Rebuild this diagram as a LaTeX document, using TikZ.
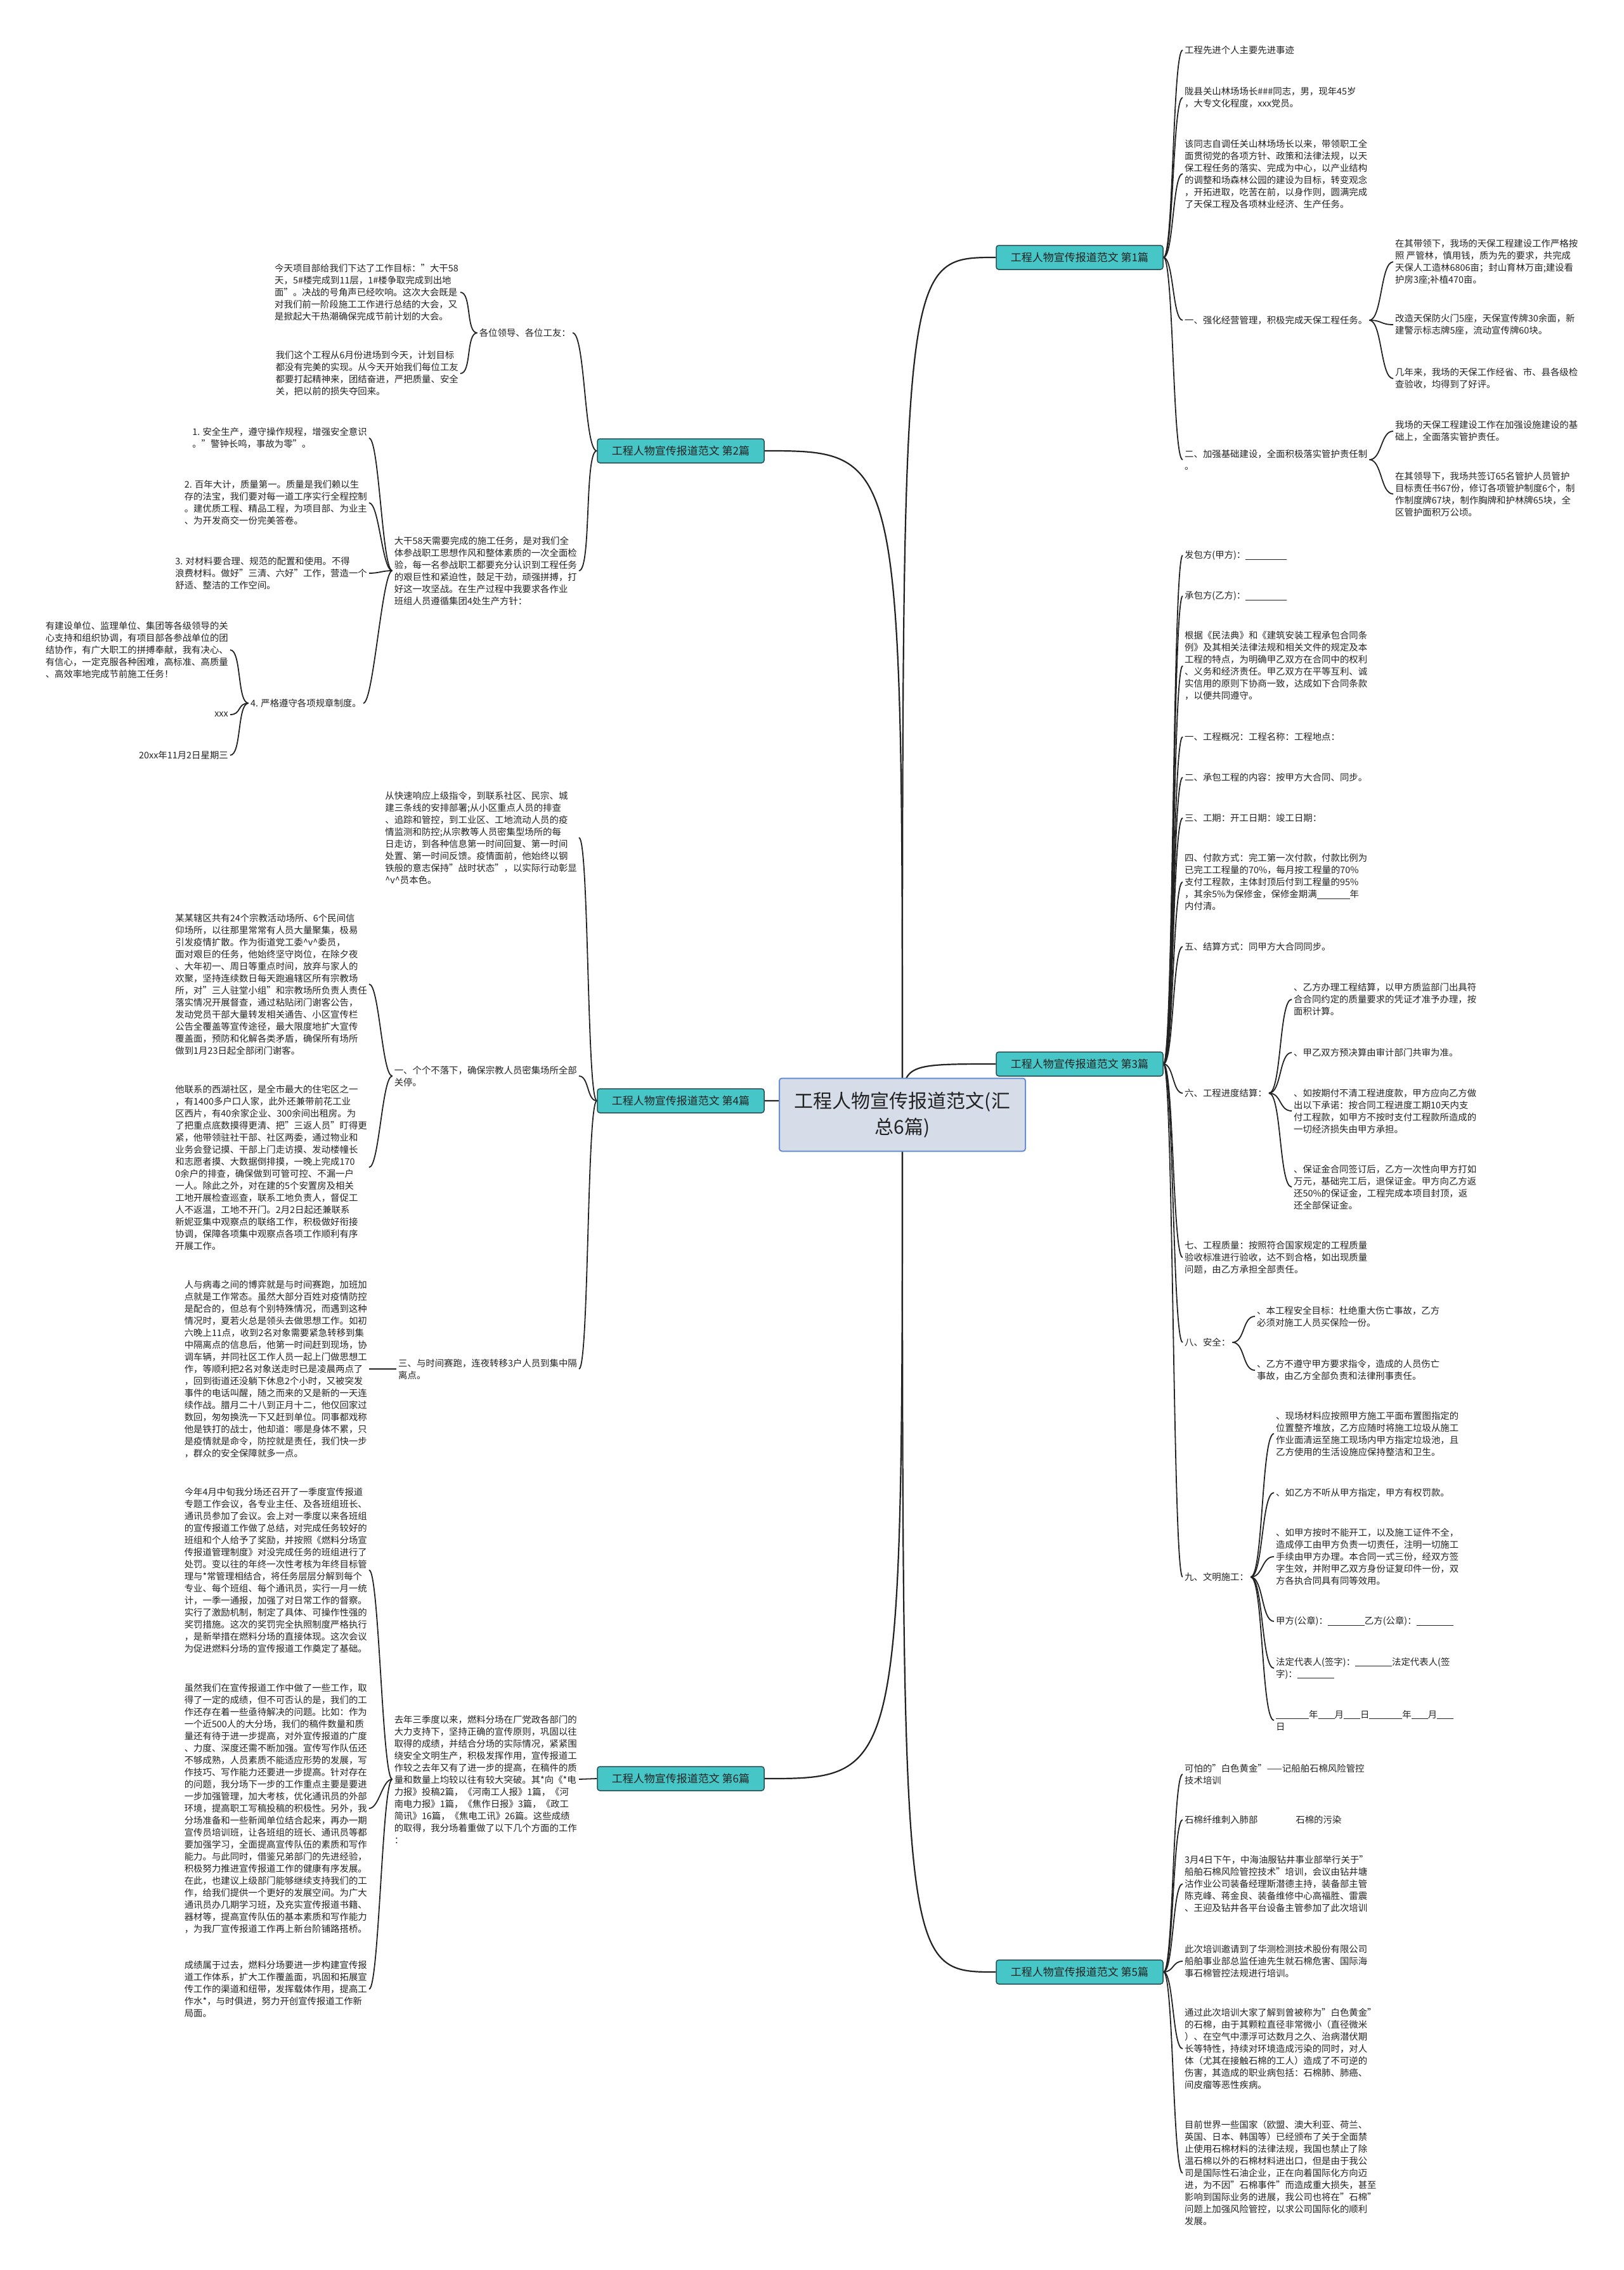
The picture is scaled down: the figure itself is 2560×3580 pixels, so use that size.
\documentclass[tikz,border=0pt]{standalone}
\usepackage{fontspec}
\setmainfont{Noto Sans CJK SC}
\usetikzlibrary{backgrounds}
\definecolor{topicfill}{RGB}{70,198,198}
\definecolor{topicedge}{RGB}{38,78,84}
\definecolor{hubfill}{RGB}{214,221,233}
\definecolor{hubedge}{RGB}{104,142,212}
\definecolor{inkgray}{RGB}{34,34,34}
\newcommand{\leaffont}{\fontsize{14.4}{19}\selectfont}
\newcommand{\blankfill}[1]{\rule[-2pt]{#1pt}{1pt}}

\begin{document}
\begin{tikzpicture}[x=1pt, y=-1pt,
    hub/.style={draw=hubedge, fill=hubfill, line width=2pt, rounded corners=4pt, align=center,
                minimum width=388pt, minimum height=115pt, font=\fontsize{30}{41}\selectfont, text=inkgray},
    topic/.style={draw=topicedge, fill=topicfill, line width=1.5pt, rounded corners=4pt, inner sep=0pt,
                minimum width=263pt, minimum height=38pt, font=\fontsize{17}{20}\selectfont, text=inkgray},
    leaf/.style={anchor=west, align=left, inner sep=3pt, font=\leaffont, text=inkgray},
    leafl/.style={leaf, anchor=east},
    trunk/.style={line width=2.2pt, inkgray},
    twig/.style={line width=1.8pt, inkgray}
  ]
    \useasboundingbox (0,0) rectangle (2560,3580);

    \node[hub] (cn) at (1423,1758) {工程人物宣传报道范文(汇\\总6篇)};

    \node[topic] (b1) at (1702.5,406) {工程人物宣传报道范文 第1篇};
    \node[topic] (b3) at (1702.5,1678) {工程人物宣传报道范文 第3篇};
    \node[topic] (b5) at (1702.5,3110) {工程人物宣传报道范文 第5篇};
    \node[topic] (b2) at (1073.5,711) {工程人物宣传报道范文 第2篇};
    \node[topic] (b4) at (1073.5,1736) {工程人物宣传报道范文 第4篇};
    \node[topic] (b6) at (1073.5,2805) {工程人物宣传报道范文 第6篇};

    \node[leaf] (p1a) at (1865,79) {工程先进个人主要先进事迹};
    \node[leaf] (p1b) at (1865,154) {陇县关山林场场长\#\#\#同志，男，现年45岁\\，大专文化程度，xxx党员。};
    \node[leaf] (p1c) at (1865,274) {该同志自调任关山林场场长以来，带领职工全\\面贯彻党的各项方针、政策和法律法规，以天\\保工程任务的落实、完成为中心，以产业结构\\的调整和场森林公园的建设为目标，转变观念\\，开拓进取，吃苦在前，以身作则，圆满完成\\了天保工程及各项林业经济、生产任务。};
    \node[leaf] (p1d) at (1865,505) {一、强化经营管理，积极完成天保工程任务。};
    \node[leaf] (p1e) at (1865,725) {二、加强基础建设，全面积极落实管护责任制\\。};
    \node[leaf] (p1d1) at (2197,413) {在其带领下，我场的天保工程建设工作严格按\\照 严管林，慎用钱，质为先的要求，共完成\\天保人工造林6806亩；封山育林万亩;建设看\\护房3座;补植470亩。};
    \node[leaf] (p1d2) at (2197,512) {改造天保防火门5座，天保宣传牌30余面，新\\建警示标志牌5座，流动宣传牌60块。};
    \node[leaf] (p1d3) at (2197,597) {几年来，我场的天保工作经省、市、县各级检\\查验收，均得到了好评。};
    \node[leaf] (p1e1) at (2197,680) {我场的天保工程建设工作在加强设施建设的基\\础上，全面落实管护责任。};
    \node[leaf] (p1e2) at (2197,779) {在其领导下，我场共签订65名管护人员管护\\目标责任书67份，修订各项管护制度6个，制\\作制度牌67块，制作胸牌和护林牌65块，全\\区管护面积万公顷。};

    \node[leaf] (p3a) at (1865,876) {发包方(甲方)：\blankfill{65}};
    \node[leaf] (p3b) at (1865,940) {承包方(乙方)：\blankfill{65}};
    \node[leaf] (p3c) at (1865,1050) {根据《民法典》和《建筑安装工程承包合同条\\例》及其相关法律法规和相关文件的规定及本\\工程的特点，为明确甲乙双方在合同中的权利\\、义务和经济责任。甲乙双方在平等互利、诚\\实信用的原则下协商一致，达成如下合同条款\\，以便共同遵守。};
    \node[leaf] (p3d) at (1865,1162) {一、工程概况：工程名称：工程地点：};
    \node[leaf] (p3e) at (1865,1226) {二、承包工程的内容：按甲方大合同、同步。};
    \node[leaf] (p3f) at (1865,1290) {三、工期：开工日期：竣工日期：};
    \node[leaf] (p3g) at (1865,1391) {四、付款方式：完工第一次付款，付款比例为\\已完工工程量的70\%，每月按工程量的70\%\\支付工程款，主体封顶后付到工程量的95\%\\，其余5\%为保修金，保修金期满\blankfill{52}年\\内付清。};
    \node[leaf] (p3h) at (1865,1493) {五、结算方式：同甲方大合同同步。};
    \node[leaf] (p3i) at (1865,1724) {六、工程进度结算：};
    \node[leaf] (p3i1) at (2037,1576) {、乙方办理工程结算，以甲方质监部门出具符\\合合同约定的质量要求的凭证才准予办理，按\\面积计算。};
    \node[leaf] (p3i2) at (2037,1660) {、甲乙双方预决算由审计部门共审为准。};
    \node[leaf] (p3i3) at (2037,1752) {、如按期付不清工程进度款，甲方应向乙方做\\出以下承诺：按合同工程进度工期10天内支\\付工程款，如甲方不按时支付工程款所造成的\\一切经济损失由甲方承担。};
    \node[leaf] (p3i4) at (2037,1872) {、保证金合同签订后，乙方一次性向甲方打如\\万元，基础完工后，退保证金。甲方向乙方返\\还50\%的保证金，工程完成本项目封顶，返\\还全部保证金。};
    \node[leaf] (p3j) at (1865,1983) {七、工程质量：按照符合国家规定的工程质量\\验收标准进行验收，达不到合格，如出现质量\\问题，由乙方承担全部责任。};
    \node[leaf] (p3k) at (1865,2117) {八、安全：};
    \node[leaf] (p3k1) at (1979,2076) {、本工程安全目标：杜绝重大伤亡事故，乙方\\必须对施工人员买保险一份。};
    \node[leaf] (p3k2) at (1979,2161) {、乙方不遵守甲方要求指令，造成的人员伤亡\\事故，由乙方全部负责和法律刑事责任。};
    \node[leaf] (p3l) at (1865,2487) {九、文明施工：};
    \node[leaf] (p3l1) at (2009,2261) {、现场材料应按照甲方施工平面布置图指定的\\位置整齐堆放，乙方应随时将施工垃圾从施工\\作业面清运至施工现场内甲方指定垃圾池，且\\乙方使用的生活设施应保持整洁和卫生。};
    \node[leaf] (p3l2) at (2009,2354) {、如乙方不听从甲方指定，甲方有权罚款。};
    \node[leaf] (p3l3) at (2009,2455) {、如甲方按时不能开工，以及施工证件不全，\\造成停工由甲方负责一切责任，注明一切施工\\手续由甲方办理。本合同一式三份，经双方签\\字生效，并附甲乙双方身份证复印件一份，双\\方各执合同具有同等效用。};
    \node[leaf] (p3l4) at (2009,2557) {甲方(公章)：\blankfill{58}乙方(公章)：\blankfill{58}};
    \node[leaf] (p3l5) at (2009,2631) {法定代表人(签字)：\blankfill{58}法定代表人(签\\字)：\blankfill{58}};
    \node[leaf] (p3l6) at (2009,2713) {\blankfill{52}年\blankfill{26}月\blankfill{26}日\blankfill{52}年\blankfill{26}月\blankfill{26}\\日};

    \node[leaf] (p5a) at (1865,2798) {可怕的"白色黄金"——记船舶石棉风险管控\\技术培训};
    \node[leaf] (p5b) at (1865,2870) {石棉纤维刺入肺部\hspace{60pt}石棉的污染};
    \node[leaf] (p5c) at (1865,2971) {3月4日下午，中海油服钻井事业部举行关于"\\船舶石棉风险管控技术"培训，会议由钻井塘\\沽作业公司装备经理斯潜德主持，装备部主管\\陈克峰、蒋金良、装备维修中心高福胜、雷震\\、王迎及钻井各平台设备主管参加了此次培训};
    \node[leaf] (p5d) at (1865,3093) {此次培训邀请到了华测检测技术股份有限公司\\船舶事业部总监任迪先生就石棉危害、国际海\\事石棉管控法规进行培训。};
    \node[leaf] (p5e) at (1865,3231) {通过此次培训大家了解到曾被称为"白色黄金"\\的石棉，由于其颗粒直径非常微小（直径微米\\）、在空气中漂浮可达数月之久、治病潜伏期\\长等特性，持续对环境造成污染的同时，对人\\体（尤其在接触石棉的工人）造成了不可逆的\\伤害，其造成的职业病包括：石棉肺、肺癌、\\间皮瘤等恶性疾病。};
    \node[leaf] (p5f) at (1865,3427) {目前世界一些国家（欧盟、澳大利亚、荷兰、\\英国、日本、韩国等）已经颁布了关于全面禁\\止使用石棉材料的法律法规，我国也禁止了除\\温石棉以外的石棉材料进出口，但是由于我公\\司是国际性石油企业，正在向着国际化方向迈\\进，为不因"石棉事件"而造成重大损失，甚至\\影响到国际业务的进展，我公司也将在"石棉"\\问题上加强风险管控，以求公司国际化的顺利\\发展。};

    \node[leafl] (p2a) at (903,525) {各位领导、各位工友：};
    \node[leafl] (p2a1) at (726,461) {今天项目部给我们下达了工作目标："大干58\\天，5\#楼完成到11层，1\#楼争取完成到出地\\面"。决战的号角声已经吹响。这次大会既是\\对我们前一阶段施工工作进行总结的大会，又\\是掀起大干热潮确保完成节前计划的大会。};
    \node[leafl] (p2a2) at (726,589) {我们这个工程从6月份进场到今天，计划目标\\都没有完美的实现。从今天开始我们每位工友\\都要打起精神来，团结奋进，严把质量、安全\\关，把以前的损失夺回来。};
    \node[leafl] (p2b) at (913,900) {大干58天需要完成的施工任务，是对我们全\\体参战职工思想作风和整体素质的一次全面检\\验，每一名参战职工都要充分认识到工程任务\\的艰巨性和紧迫性，鼓足干劲，顽强拼搏，打\\好这一攻坚战。在生产过程中我要求各作业\\班组人员遵循集团4处生产方针：};
    \node[leafl] (p2b1) at (582,691) {1. 安全生产，遵守操作规程，增强安全意识\\。"警钟长鸣，事故为零"。};
    \node[leafl] (p2b2) at (582,793) {2. 百年大计，质量第一。质量是我们赖以生\\存的法宝，我们要对每一道工序实行全程控制\\。建优质工程、精品工程，为项目部、为业主\\、为开发商交一份完美答卷。};
    \node[leafl] (p2b3) at (582,904) {3. 对材料要合理、规范的配置和使用。不得\\浪费材料。做好"三清、六好"工作，营造一个\\舒适、整洁的工作空间。};
    \node[leafl] (p2b4) at (573,1109) {4. 严格遵守各项规章制度。};
    \node[leafl] (p2c1) at (363,1025) {有建设单位、监理单位、集团等各级领导的关\\心支持和组织协调，有项目部各参战单位的团\\结协作，有广大职工的拼搏奉献，我有决心、\\有信心，一定克服各种困难，高标准、高质量\\、高效率地完成节前施工任务！};
    \node[leafl] (p2c2) at (363,1127) {xxx};
    \node[leafl] (p2c3) at (363,1191) {20xx年11月2日星期三};

    \node[leafl] (p4a) at (913,1321) {从快速响应上级指令，到联系社区、民宗、城\\建三条线的安排部署;从小区重点人员的排查\\、追踪和管控，到工业区、工地流动人员的疫\\情监测和防控;从宗教等人员密集型场所的每\\日走访，到各种信息第一时间回复、第一时间\\处置、第一时间反馈。疫情面前，他始终以钢\\铁般的意志保持"战时状态"，以实际行动彰显\\\textasciicircum v\textasciicircum 员本色。};
    \node[leafl] (p4b) at (913,1697) {一、个个不落下，确保宗教人员密集场所全部\\关停。};
    \node[leafl] (p4b1) at (582,1552) {某某辖区共有24个宗教活动场所、6个民间信\\仰场所，以往那里常常有人员大量聚集，极易\\引发疫情扩散。作为街道党工委\textasciicircum v\textasciicircum 委员，\\面对艰巨的任务，他始终坚守岗位，在除夕夜\\、大年初一、周日等重点时间，放弃与家人的\\欢聚，坚持连续数日每天跑遍辖区所有宗教场\\所，对"三人驻堂小组"和宗教场所负责人责任\\落实情况开展督查，通过粘贴闭门谢客公告，\\发动党员干部大量转发相关通告、小区宣传栏\\公告全覆盖等宣传途径，最大限度地扩大宣传\\覆盖面，预防和化解各类矛盾，确保所有场所\\做到1月23日起全部闭门谢客。};
    \node[leafl] (p4b2) at (582,1841) {他联系的西湖社区，是全市最大的住宅区之一\\，有1400多户口人家，此外还兼带前花工业\\区西片，有40余家企业、300余间出租房。为\\了把重点底数摸得更清、把"三返人员"盯得更\\紧，他带领驻社干部、社区两委，通过物业和\\业务会登记摸、干部上门走访摸、发动楼幢长\\和志愿者摸、大数据倒排摸，一晚上完成170\\0余户的排查，确保做到可管可控、不漏一户\\一人。除此之外，对在建的5个安置房及相关\\工地开展检查巡查，联系工地负责人，督促工\\人不返温，工地不开门。2月2日起还兼联系\\新妮亚集中观察点的联络工作，积极做好衔接\\协调，保障各项集中观察点各项工作顺利有序\\开展工作。};
    \node[leafl] (p4c) at (913,2159) {三、与时间赛跑，连夜转移3户人员到集中隔\\离点。};
    \node[leafl] (p4c1) at (582,2159) {人与病毒之间的博弈就是与时间赛跑，加班加\\点就是工作常态。虽然大部分百姓对疫情防控\\是配合的，但总有个别特殊情况，而遇到这种\\情况时，夏若火总是领头去做思想工作。如初\\六晚上11点，收到2名对象需要紧急转移到集\\中隔离点的信息后，他第一时间赶到现场，协\\调车辆，并同社区工作人员一起上门做思想工\\作，等顺利把2名对象送走时已是凌晨两点了\\，回到街道还没躺下休息2个小时，又被突发\\事件的电话叫醒，随之而来的又是新的一天连\\续作战。腊月二十八到正月十二，他仅回家过\\数回，匆匆换洗一下又赶到单位。同事都戏称\\他是铁打的战士，他却道：哪是身体不累，只\\是疫情就是命令，防控就是责任，我们快一步\\，群众的安全保障就多一点。};

    \node[leafl] (p6a) at (913,2806) {去年三季度以来，燃料分场在厂党政各部门的\\大力支持下，坚持正确的宣传原则，巩固以往\\取得的成绩，并结合分场的实际情况，紧紧围\\绕安全文明生产，积极发挥作用，宣传报道工\\作较之去年又有了进一步的提高，在稿件的质\\量和数量上均较以往有较大突破。其*向《*电\\力报》投稿2篇，《河南工人报》1篇，《河\\南电力报》1篇，《焦作日报》3篇，《政工\\简讯》16篇，《焦电工讯》26篇。这些成绩\\的取得，我分场着重做了以下几个方面的工作\\：};
    \node[leafl] (p6a1) at (582,2476) {今年4月中旬我分场还召开了一季度宣传报道\\专题工作会议，各专业主任、及各班组班长、\\通讯员参加了会议。会上对一季度以来各班组\\的宣传报道工作做了总结，对完成任务较好的\\班组和个人给予了奖励，并按照《燃料分场宣\\传报道管理制度》对没完成任务的班组进行了\\处罚。变以往的年终一次性考核为年终目标管\\理与*常管理相结合，将任务层层分解到每个\\专业、每个班组、每个通讯员，实行一月一统\\计，一季一通报，加强了对日常工作的督察。\\实行了激励机制，制定了具体、可操作性强的\\奖罚措施。这次的奖罚完全执照制度严格执行\\，是新举措在燃料分场的直接体现。这次会议\\为促进燃料分场的宣传报道工作奠定了基础。};
    \node[leafl] (p6a2) at (582,2852) {虽然我们在宣传报道工作中做了一些工作，取\\得了一定的成绩，但不可否认的是，我们的工\\作还存在着一些亟待解决的问题。比如：作为\\一个近500人的大分场，我们的稿件数量和质\\量还有待于进一步提高，对外宣传报道的广度\\、力度、深度还需不断加强。宣传写作队伍还\\不够成熟，人员素质不能适应形势的发展，写\\作技巧、写作能力还要进一步提高。针对存在\\的问题，我分场下一步的工作重点主要是要进\\一步加强管理，加大考核，优化通讯员的外部\\环境，提高职工写稿投稿的积极性。另外，我\\分场准备和一些新闻单位结合起来，再办一期\\宣传员培训班，让各班组的班长、通讯员等都\\要加强学习，全面提高宣传队伍的素质和写作\\能力。与此同时，借鉴兄弟部门的先进经验，\\积极努力推进宣传报道工作的健康有序发展。\\在此，也建议上级部门能够继续支持我们的工\\作，给我们提供一个更好的发展空间。为广大\\通讯员办几期学习班，及充实宣传报道书籍、\\器材等，提高宣传队伍的基本素质和写作能力\\，为我厂宣传报道工作再上新台阶铺路搭桥。};
    \node[leafl] (p6a3) at (582,3137) {成绩属于过去，燃料分场要进一步构建宣传报\\道工作体系，扩大工作覆盖面，巩固和拓展宣\\传工作的渠道和纽带，发挥载体作用，提高工\\作水*，与时俱进，努力开创宣传报道工作新\\局面。};

    \begin{scope}[on background layer]
    \draw[trunk] (cn.center) .. controls (cn.center |- b1.west) .. (b1.west);
    \draw[trunk] (cn.center) .. controls (cn.center |- b3.west) .. (b3.west);
    \draw[trunk] (cn.center) .. controls (cn.center |- b5.west) .. (b5.west);
    \draw[trunk] (cn.center) .. controls (cn.center |- b2.east) .. (b2.east);
    \draw[trunk] (cn.center) .. controls (cn.center |- b4.east) .. (b4.east);
    \draw[trunk] (cn.center) .. controls (cn.center |- b6.east) .. (b6.east);

    \draw[twig] (b1.east) .. controls +(16,0) and +(-16,0) .. (p1a.west);
    \draw[twig] (b1.east) .. controls +(16,0) and +(-16,0) .. (p1b.west);
    \draw[twig] (b1.east) .. controls +(16,0) and +(-16,0) .. (p1c.west);
    \draw[twig] (b1.east) .. controls +(16,0) and +(-16,0) .. (p1d.west);
    \draw[twig] (b1.east) .. controls +(16,0) and +(-16,0) .. (p1e.west);
    \draw[twig] (p1d.east) .. controls +(20,0) and +(-20,0) .. (p1d1.west);
    \draw[twig] (p1d.east) .. controls +(20,0) and +(-20,0) .. (p1d2.west);
    \draw[twig] (p1d.east) .. controls +(20,0) and +(-20,0) .. (p1d3.west);
    \draw[twig] (p1e.east) .. controls +(20,0) and +(-20,0) .. (p1e1.west);
    \draw[twig] (p1e.east) .. controls +(20,0) and +(-20,0) .. (p1e2.west);

    \draw[twig] (b3.east) .. controls +(16,0) and +(-16,0) .. (p3a.west);
    \draw[twig] (b3.east) .. controls +(16,0) and +(-16,0) .. (p3b.west);
    \draw[twig] (b3.east) .. controls +(16,0) and +(-16,0) .. (p3c.west);
    \draw[twig] (b3.east) .. controls +(16,0) and +(-16,0) .. (p3d.west);
    \draw[twig] (b3.east) .. controls +(16,0) and +(-16,0) .. (p3e.west);
    \draw[twig] (b3.east) .. controls +(16,0) and +(-16,0) .. (p3f.west);
    \draw[twig] (b3.east) .. controls +(16,0) and +(-16,0) .. (p3g.west);
    \draw[twig] (b3.east) .. controls +(16,0) and +(-16,0) .. (p3h.west);
    \draw[twig] (b3.east) .. controls +(16,0) and +(-16,0) .. (p3i.west);
    \draw[twig] (b3.east) .. controls +(16,0) and +(-16,0) .. (p3j.west);
    \draw[twig] (b3.east) .. controls +(16,0) and +(-16,0) .. (p3k.west);
    \draw[twig] (b3.east) .. controls +(16,0) and +(-16,0) .. (p3l.west);
    \draw[twig] (p3i.east) .. controls +(20,0) and +(-20,0) .. (p3i1.west);
    \draw[twig] (p3i.east) .. controls +(20,0) and +(-20,0) .. (p3i2.west);
    \draw[twig] (p3i.east) .. controls +(20,0) and +(-20,0) .. (p3i3.west);
    \draw[twig] (p3i.east) .. controls +(20,0) and +(-20,0) .. (p3i4.west);
    \draw[twig] (p3k.east) .. controls +(20,0) and +(-20,0) .. (p3k1.west);
    \draw[twig] (p3k.east) .. controls +(20,0) and +(-20,0) .. (p3k2.west);
    \draw[twig] (p3l.east) .. controls +(20,0) and +(-20,0) .. (p3l1.west);
    \draw[twig] (p3l.east) .. controls +(20,0) and +(-20,0) .. (p3l2.west);
    \draw[twig] (p3l.east) .. controls +(20,0) and +(-20,0) .. (p3l3.west);
    \draw[twig] (p3l.east) .. controls +(20,0) and +(-20,0) .. (p3l4.west);
    \draw[twig] (p3l.east) .. controls +(20,0) and +(-20,0) .. (p3l5.west);
    \draw[twig] (p3l.east) .. controls +(20,0) and +(-20,0) .. (p3l6.west);

    \draw[twig] (b5.east) .. controls +(16,0) and +(-16,0) .. (p5a.west);
    \draw[twig] (b5.east) .. controls +(16,0) and +(-16,0) .. (p5b.west);
    \draw[twig] (b5.east) .. controls +(16,0) and +(-16,0) .. (p5c.west);
    \draw[twig] (b5.east) .. controls +(16,0) and +(-16,0) .. (p5d.west);
    \draw[twig] (b5.east) .. controls +(16,0) and +(-16,0) .. (p5e.west);
    \draw[twig] (b5.east) .. controls +(16,0) and +(-16,0) .. (p5f.west);

    \draw[twig] (b2.west) .. controls +(-20,0) and +(20,0) .. (p2a.east);
    \draw[twig] (b2.west) .. controls +(-20,0) and +(20,0) .. (p2b.east);
    \draw[twig] (p2a.west) .. controls +(-18,0) and +(18,0) .. (p2a1.east);
    \draw[twig] (p2a.west) .. controls +(-18,0) and +(18,0) .. (p2a2.east);
    \draw[twig] (p2b.west) .. controls +(-16,0) and +(16,0) .. (p2b1.east);
    \draw[twig] (p2b.west) .. controls +(-16,0) and +(16,0) .. (p2b2.east);
    \draw[twig] (p2b.west) .. controls +(-16,0) and +(16,0) .. (p2b3.east);
    \draw[twig] (p2b.west) .. controls +(-16,0) and +(16,0) .. (p2b4.east);
    \draw[twig] (p2b4.west) .. controls +(-18,0) and +(18,0) .. (p2c1.east);
    \draw[twig] (p2b4.west) .. controls +(-18,0) and +(18,0) .. (p2c2.east);
    \draw[twig] (p2b4.west) .. controls +(-18,0) and +(18,0) .. (p2c3.east);

    \draw[twig] (b4.west) .. controls +(-16,0) and +(16,0) .. (p4a.east);
    \draw[twig] (b4.west) .. controls +(-16,0) and +(16,0) .. (p4b.east);
    \draw[twig] (b4.west) .. controls +(-16,0) and +(16,0) .. (p4c.east);
    \draw[twig] (p4b.west) .. controls +(-16,0) and +(16,0) .. (p4b1.east);
    \draw[twig] (p4b.west) .. controls +(-16,0) and +(16,0) .. (p4b2.east);
    \draw[twig] (p4c.west) -- (p4c1.east);

    \draw[twig] (b6.west) -- (p6a.east);
    \draw[twig] (p6a.west) .. controls +(-16,0) and +(16,0) .. (p6a1.east);
    \draw[twig] (p6a.west) .. controls +(-16,0) and +(16,0) .. (p6a2.east);
    \draw[twig] (p6a.west) .. controls +(-16,0) and +(16,0) .. (p6a3.east);
    \end{scope}
  \end{tikzpicture}
\end{document}
